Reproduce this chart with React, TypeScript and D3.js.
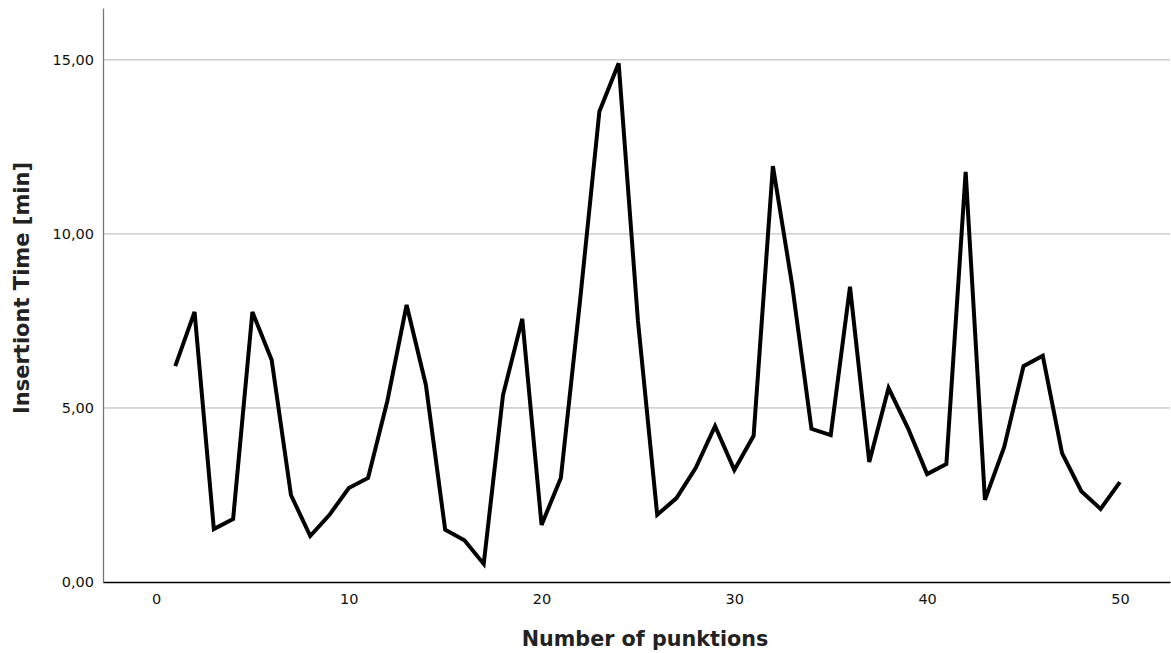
import { useEffect, useRef } from "react";
import * as d3 from "d3";

// punction index and insertion time in minutes
const punctions = d3.range(1, 51);
const insertionTime = [
  6.2, 7.76, 1.52, 1.81, 7.76, 6.38, 2.5, 1.32, 1.93, 2.7,
  2.99, 5.2, 7.96, 5.66, 1.5, 1.2, 0.52, 5.37, 7.56, 1.64,
  2.99, 8.1, 13.52, 14.9, 7.5, 1.93, 2.41, 3.28, 4.48, 3.22,
  4.2, 11.95, 8.53, 4.4, 4.22, 8.48, 3.45, 5.57, 4.43, 3.1,
  3.39, 11.78, 2.36, 3.88, 6.2, 6.5, 3.7, 2.61, 2.1, 2.87,
];
const yTicks = [0, 5, 10, 15];
const xTicks = [0, 10, 20, 30, 40, 50];

const W = 1171,
  H = 653;
const font = "'DejaVu Sans', Verdana, sans-serif";

function draw(el: SVGSVGElement) {
  const margin = { top: 8, right: 1, bottom: 71, left: 103 };
  const svg = d3.select(el);
  svg.selectAll("*").remove();

  const x = d3.scaleLinear().domain([-2.75, 52.6]).range([margin.left, W - margin.right]);
  const y = d3.scaleLinear().domain([0, 16.49]).range([H - margin.bottom, margin.top]);

  // gridlines
  svg
    .append("g")
    .selectAll("line")
    .data(yTicks.filter((d) => d > 0))
    .join("line")
    .attr("x1", margin.left)
    .attr("x2", W - margin.right)
    .attr("y1", (d) => y(d))
    .attr("y2", (d) => y(d))
    .attr("stroke", "#b4b4b4")
    .attr("stroke-width", 1);

  // y axis
  const ya = svg
    .append("g")
    .attr("transform", `translate(${margin.left},0)`)
    .call(
      d3
        .axisLeft(y)
        .tickValues(yTicks)
        .tickSize(0)
        .tickPadding(9)
        .tickFormat((d) => d3.format(".2f")(d as number).replace(".", ","))
    );
  ya.select(".domain").attr("stroke", "#777").attr("stroke-width", 1.3);
  ya.selectAll("text").attr("font-family", font).attr("font-size", 14.5).attr("fill", "#111");

  // x axis
  const xa = svg
    .append("g")
    .attr("transform", `translate(0,${H - margin.bottom})`)
    .call(d3.axisBottom(x).tickValues(xTicks).tickSize(0).tickPadding(12));
  xa.select(".domain").attr("stroke", "#000").attr("stroke-width", 1.3);
  xa.selectAll("text").attr("font-family", font).attr("font-size", 14.5).attr("fill", "#111");

  const line = d3
    .line<number>()
    .x((_, i) => x(punctions[i]))
    .y((d) => y(d));

  svg
    .append("path")
    .datum(insertionTime)
    .attr("d", line)
    .attr("fill", "none")
    .attr("stroke", "#000")
    .attr("stroke-width", 4)
    .attr("stroke-linejoin", "miter");

  svg
    .append("text")
    .attr("x", 645)
    .attr("y", 646)
    .attr("text-anchor", "middle")
    .attr("font-family", font)
    .attr("font-weight", "bold")
    .attr("font-size", 20.7)
    .attr("fill", "#222")
    .text("Number of punktions");

  svg
    .append("text")
    .attr("transform", `translate(29,288) rotate(-90)`)
    .attr("text-anchor", "middle")
    .attr("font-family", font)
    .attr("font-weight", "bold")
    .attr("font-size", 21)
    .attr("fill", "#222")
    .text("Insertiont Time [min]");
}

export default function App() {
  const ref = useRef<SVGSVGElement>(null);
  useEffect(() => {
    if (ref.current) draw(ref.current);
  }, []);
  return (
    <svg
      ref={ref}
      width={W}
      height={H}
      style={{ position: "absolute", left: 0, top: 0, background: "#fff" }}
    />
  );
}
